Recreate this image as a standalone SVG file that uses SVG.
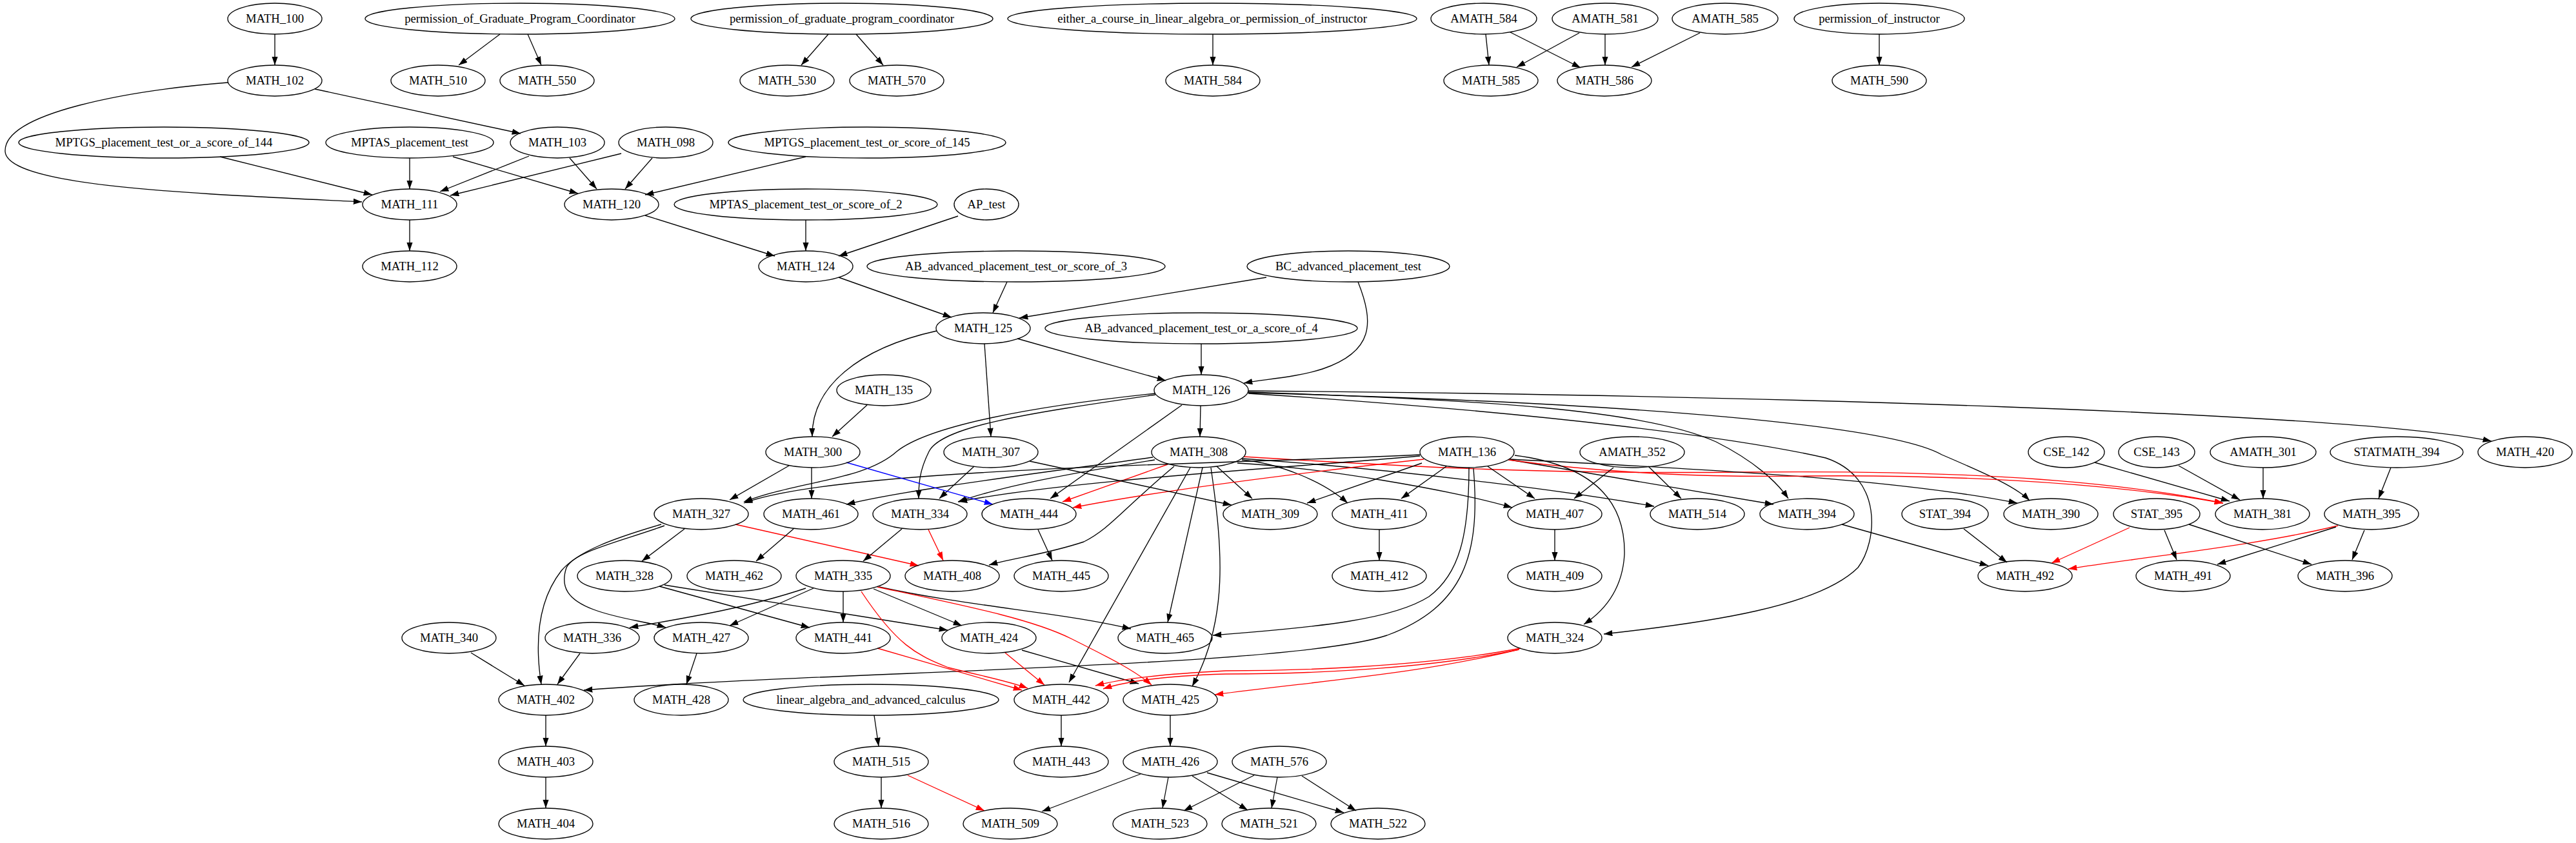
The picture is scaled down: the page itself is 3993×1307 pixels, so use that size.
<svg xmlns="http://www.w3.org/2000/svg" width="3993" height="1307" viewBox="0 0 3993 1307">
<style>
.node ellipse{fill:none;stroke:#000;stroke-width:1.33}
.node text{font-family:"Liberation Serif","Times New Roman",serif;font-size:18.67px;text-anchor:middle;fill:#000}
.e{fill:none;stroke:#000;stroke-width:1.33;marker-end:url(#ak)}
.e.r{stroke:#f00;marker-end:url(#ar)}
.e.b{stroke:#00f;marker-end:url(#ab)}
</style>
<defs>
<marker id="ak" markerUnits="userSpaceOnUse" markerWidth="14" markerHeight="10" refX="13.33" refY="4.67" orient="auto"><path d="M0,0 L13.33,4.67 L0,9.33 z" fill="#000"/></marker>
<marker id="ar" markerUnits="userSpaceOnUse" markerWidth="14" markerHeight="10" refX="13.33" refY="4.67" orient="auto"><path d="M0,0 L13.33,4.67 L0,9.33 z" fill="#f00"/></marker>
<marker id="ab" markerUnits="userSpaceOnUse" markerWidth="14" markerHeight="10" refX="13.33" refY="4.67" orient="auto"><path d="M0,0 L13.33,4.67 L0,9.33 z" fill="#00f"/></marker>
</defs>
<rect width="3993" height="1307" fill="#fff"/>
<g id="edges">
<path class="e" d="M426,53 L426,101"/>
<path class="e" d="M775,53 L711,101"/>
<path class="e" d="M818,53 L839,101"/>
<path class="e" d="M1284,53 L1242,101"/>
<path class="e" d="M1327,53 L1369,101"/>
<path class="e" d="M1880,53 L1880,101"/>
<path class="e" d="M2303,53 L2308,101"/>
<path class="e" d="M2341,50 L2450,105"/>
<path class="e" d="M2448,51 L2351,104"/>
<path class="e" d="M2488,53 L2488,101"/>
<path class="e" d="M2635,51 L2529,104"/>
<path class="e" d="M2913,53 L2913,101"/>
<path class="e" d="M353,128 C200,140 5,175 8,235 C12,290 300,300 561,313"/>
<path class="e" d="M488,138 L807,207"/>
<path class="e" d="M341,243 L577,302"/>
<path class="e" d="M635,245 L635,293"/>
<path class="e" d="M702,243 L896,300"/>
<path class="e" d="M820,242 L682,297"/>
<path class="e" d="M883,245 L925,293"/>
<path class="e" d="M963,238 L698,303"/>
<path class="e" d="M1011,245 L969,293"/>
<path class="e" d="M1249,243 L1000,302"/>
<path class="e" d="M635,341 L635,389"/>
<path class="e" d="M1000,334 L1201,397"/>
<path class="e" d="M1249,341 L1249,389"/>
<path class="e" d="M1485,335 L1300,397"/>
<path class="e" d="M1300,430 L1475,492"/>
<path class="e" d="M1561,437 L1539,485"/>
<path class="e" d="M1963,430 L1580,493"/>
<path class="e" d="M2105,437 C2130,500 2130,545 2050,572 C2010,585 1960,588 1928,594"/>
<path class="e" d="M1862,533 L1862,581"/>
<path class="e" d="M1577,525 L1807,590"/>
<path class="e" d="M1452,513 C1330,540 1258,600 1259,677"/>
<path class="e" d="M1526,533 L1536,677"/>
<path class="e" d="M1344,628 L1290,677"/>
<path class="e" d="M1861,629 L1860,677"/>
<path class="e" d="M1791,610 C1600,630 1440,660 1390,700 C1340,745 1240,745 1153,778"/>
<path class="e" d="M1791,612 C1600,640 1460,660 1440,700 C1425,730 1424,750 1424,773"/>
<path class="e" d="M1832,628 L1628,773"/>
<path class="e" d="M1935,606 C2700,612 3650,640 3862,684"/>
<path class="e" d="M1935,608 C2300,620 2550,635 2660,685 C2720,715 2755,748 2772,773"/>
<path class="e" d="M1935,609 C2550,625 2930,660 3010,705 C3080,735 3125,755 3146,776"/>
<path class="e" d="M1935,610 C2400,640 2700,680 2830,710 C2920,740 2910,840 2880,880 C2820,940 2650,965 2486,983"/>
<path class="e" d="M1787,709 C1600,735 1400,760 1312,782"/>
<path class="e" d="M1790,713 C1650,735 1550,755 1485,778"/>
<path class="e r" d="M1810,720 L1647,778"/>
<path class="e" d="M1886,723 L1941,773"/>
<path class="e" d="M1925,713 C1980,718 2050,745 2089,780"/>
<path class="e" d="M1918,718 C2050,725 2250,760 2344,787"/>
<path class="e" d="M1925,711 C2200,730 2450,765 2564,785"/>
<path class="e r" d="M1928,708 C2200,725 2400,735 2700,732 C3000,729 3250,740 3446,780"/>
<path class="e" d="M1820,723 C1740,790 1720,820 1680,840 C1620,860 1570,865 1533,876"/>
<path class="e" d="M1845,725 L1657,1058"/>
<path class="e" d="M1864,725 L1810,965"/>
<path class="e" d="M1877,725 C1895,850 1905,960 1848,1064"/>
<path class="e" d="M2201,705 C1900,720 1300,725 1153,780"/>
<path class="e" d="M2201,707 C2000,725 1650,745 1486,778"/>
<path class="e r" d="M2207,712 C2000,735 1800,760 1663,787"/>
<path class="e" d="M2204,718 L2026,780"/>
<path class="e" d="M2242,723 L2172,773"/>
<path class="e" d="M2306,723 L2379,773"/>
<path class="e" d="M2341,713 L2749,782"/>
<path class="e" d="M2340,712 C2700,730 2950,745 3127,780"/>
<path class="e r" d="M2338,713 C2500,735 2650,740 2800,738 C3000,736 3250,745 3446,780"/>
<path class="e" d="M2277,725 C2277,830 2262,890 2215,925 C2160,960 2050,972 1880,985"/>
<path class="e" d="M2284,726 C2295,860 2270,940 2150,985 C2000,1035 1300,1040 905,1070"/>
<path class="e" d="M2348,706 C2460,720 2520,770 2518,860 C2515,910 2490,945 2455,968"/>
<path class="e" d="M1510,723 L1456,773"/>
<path class="e" d="M1596,715 L1909,783"/>
<path class="e" d="M1223,722 L1131,775"/>
<path class="e" d="M1258,725 L1258,773"/>
<path class="e b" d="M1312,717 L1539,782"/>
<path class="e" d="M1061,820 L995,870"/>
<path class="e r" d="M1140,813 L1424,877"/>
<path class="e r" d="M1439,821 L1462,869"/>
<path class="e" d="M1398,820 L1338,870"/>
<path class="e" d="M1230,820 L1172,870"/>
<path class="e" d="M1609,821 L1631,869"/>
<path class="e" d="M1025,813 C950,835 895,855 870,885 C835,930 828,990 839,1061"/>
<path class="e" d="M1030,815 C960,840 890,855 878,880 C868,910 880,930 920,945 C960,960 1000,963 1032,973"/>
<path class="e" d="M1022,909 L1255,973"/>
<path class="e" d="M1030,907 L1469,977"/>
<path class="e" d="M1249,912 C1150,945 1050,960 976,973"/>
<path class="e" d="M1261,912 L1131,970"/>
<path class="e" d="M1307,917 L1307,965"/>
<path class="e" d="M1354,913 L1491,970"/>
<path class="e" d="M1363,910 C1500,940 1650,950 1753,975"/>
<path class="e r" d="M1335,917 C1390,1000 1420,1015 1470,1035 C1530,1050 1560,1055 1593,1067"/>
<path class="e r" d="M1360,910 C1500,940 1600,960 1660,990 C1720,1020 1760,1040 1785,1062"/>
<path class="e r" d="M1360,1005 L1584,1070"/>
<path class="e r" d="M1558,1012 L1619,1062"/>
<path class="e" d="M1584,1008 L1765,1060"/>
<path class="e" d="M1080,1013 L1064,1061"/>
<path class="e r" d="M2357,1005 C2200,1035 2000,1040 1900,1040 C1800,1045 1740,1052 1698,1063"/>
<path class="e r" d="M2355,1007 C2200,1040 2000,1045 1900,1045 C1800,1048 1740,1058 1710,1068"/>
<path class="e r" d="M2354,1007 C2200,1045 2050,1055 1883,1077"/>
<path class="e" d="M899,1013 L864,1061"/>
<path class="e" d="M730,1012 L813,1063"/>
<path class="e" d="M846,1109 L846,1157"/>
<path class="e" d="M846,1205 L846,1253"/>
<path class="e" d="M1355,1109 L1362,1157"/>
<path class="e" d="M1366,1205 L1366,1253"/>
<path class="e r" d="M1407,1202 L1526,1257"/>
<path class="e" d="M1645,1109 L1645,1157"/>
<path class="e" d="M1814,1109 L1814,1157"/>
<path class="e" d="M1768,1200 L1615,1258"/>
<path class="e" d="M1811,1205 L1802,1253"/>
<path class="e" d="M1848,1203 L1934,1256"/>
<path class="e" d="M1871,1198 L2083,1260"/>
<path class="e" d="M1944,1202 L1835,1257"/>
<path class="e" d="M1980,1205 L1971,1253"/>
<path class="e" d="M2018,1203 L2102,1257"/>
<path class="e" d="M2855,813 L3082,877"/>
<path class="e" d="M3044,820 L3111,872"/>
<path class="e r" d="M3301,818 L3180,873"/>
<path class="e r" d="M3624,815 C3500,845 3350,860 3206,882"/>
<path class="e" d="M3355,822 L3374,868"/>
<path class="e" d="M3393,813 L3583,875"/>
<path class="e" d="M3621,817 L3437,875"/>
<path class="e" d="M3665,822 L3646,868"/>
<path class="e" d="M3706,725 L3687,773"/>
<path class="e" d="M3247,717 L3456,777"/>
<path class="e" d="M3377,722 L3472,775"/>
<path class="e" d="M3508,725 L3508,773"/>
<path class="e" d="M2501,725 L2440,773"/>
<path class="e" d="M2555,723 L2606,773"/>
<path class="e" d="M2138,821 L2138,869"/>
<path class="e" d="M2410,821 L2410,869"/>
</g>
<g id="n_MATH_100" class="node"><ellipse cx="426" cy="29" rx="73" ry="24"/><text x="426" y="35">MATH_100</text></g>
<g id="n_perm_Grad" class="node"><ellipse cx="806" cy="29" rx="240" ry="24"/><text x="806" y="35">permission_of_Graduate_Program_Coordinator</text></g>
<g id="n_perm_grad" class="node"><ellipse cx="1305" cy="29" rx="234" ry="24"/><text x="1305" y="35">permission_of_graduate_program_coordinator</text></g>
<g id="n_either" class="node"><ellipse cx="1879" cy="29" rx="317" ry="24"/><text x="1879" y="35">either_a_course_in_linear_algebra_or_permission_of_instructor</text></g>
<g id="n_AMATH_584" class="node"><ellipse cx="2300" cy="29" rx="82" ry="24"/><text x="2300" y="35">AMATH_584</text></g>
<g id="n_AMATH_581" class="node"><ellipse cx="2488" cy="29" rx="82" ry="24"/><text x="2488" y="35">AMATH_581</text></g>
<g id="n_AMATH_585" class="node"><ellipse cx="2674" cy="29" rx="82" ry="24"/><text x="2674" y="35">AMATH_585</text></g>
<g id="n_perm_instr" class="node"><ellipse cx="2913" cy="29" rx="132" ry="24"/><text x="2913" y="35">permission_of_instructor</text></g>
<g id="n_MATH_102" class="node"><ellipse cx="426" cy="125" rx="73" ry="24"/><text x="426" y="131">MATH_102</text></g>
<g id="n_MATH_510" class="node"><ellipse cx="679" cy="125" rx="73" ry="24"/><text x="679" y="131">MATH_510</text></g>
<g id="n_MATH_550" class="node"><ellipse cx="848" cy="125" rx="73" ry="24"/><text x="848" y="131">MATH_550</text></g>
<g id="n_MATH_530" class="node"><ellipse cx="1220" cy="125" rx="73" ry="24"/><text x="1220" y="131">MATH_530</text></g>
<g id="n_MATH_570" class="node"><ellipse cx="1390" cy="125" rx="73" ry="24"/><text x="1390" y="131">MATH_570</text></g>
<g id="n_MATH_584" class="node"><ellipse cx="1880" cy="125" rx="73" ry="24"/><text x="1880" y="131">MATH_584</text></g>
<g id="n_MATH_585" class="node"><ellipse cx="2311" cy="125" rx="73" ry="24"/><text x="2311" y="131">MATH_585</text></g>
<g id="n_MATH_586" class="node"><ellipse cx="2487" cy="125" rx="73" ry="24"/><text x="2487" y="131">MATH_586</text></g>
<g id="n_MATH_590" class="node"><ellipse cx="2913" cy="125" rx="73" ry="24"/><text x="2913" y="131">MATH_590</text></g>
<g id="n_MPTGS_144" class="node"><ellipse cx="254" cy="221" rx="225" ry="24"/><text x="254" y="227">MPTGS_placement_test_or_a_score_of_144</text></g>
<g id="n_MPTAS_pt" class="node"><ellipse cx="635" cy="221" rx="130" ry="24"/><text x="635" y="227">MPTAS_placement_test</text></g>
<g id="n_MATH_103" class="node"><ellipse cx="864" cy="221" rx="73" ry="24"/><text x="864" y="227">MATH_103</text></g>
<g id="n_MATH_098" class="node"><ellipse cx="1032" cy="221" rx="73" ry="24"/><text x="1032" y="227">MATH_098</text></g>
<g id="n_MPTGS_145" class="node"><ellipse cx="1344" cy="221" rx="215" ry="24"/><text x="1344" y="227">MPTGS_placement_test_or_score_of_145</text></g>
<g id="n_MATH_111" class="node"><ellipse cx="635" cy="317" rx="73" ry="24"/><text x="635" y="323">MATH_111</text></g>
<g id="n_MATH_120" class="node"><ellipse cx="948" cy="317" rx="73" ry="24"/><text x="948" y="323">MATH_120</text></g>
<g id="n_MPTAS_2" class="node"><ellipse cx="1249" cy="317" rx="204" ry="24"/><text x="1249" y="323">MPTAS_placement_test_or_score_of_2</text></g>
<g id="n_AP_test" class="node"><ellipse cx="1529" cy="317" rx="50" ry="24"/><text x="1529" y="323">AP_test</text></g>
<g id="n_MATH_112" class="node"><ellipse cx="635" cy="413" rx="73" ry="24"/><text x="635" y="419">MATH_112</text></g>
<g id="n_MATH_124" class="node"><ellipse cx="1249" cy="413" rx="73" ry="24"/><text x="1249" y="419">MATH_124</text></g>
<g id="n_AB_3" class="node"><ellipse cx="1575" cy="413" rx="231" ry="24"/><text x="1575" y="419">AB_advanced_placement_test_or_score_of_3</text></g>
<g id="n_BC" class="node"><ellipse cx="2090" cy="413" rx="157" ry="24"/><text x="2090" y="419">BC_advanced_placement_test</text></g>
<g id="n_MATH_125" class="node"><ellipse cx="1524" cy="509" rx="73" ry="24"/><text x="1524" y="515">MATH_125</text></g>
<g id="n_AB_4" class="node"><ellipse cx="1862" cy="509" rx="242" ry="24"/><text x="1862" y="515">AB_advanced_placement_test_or_a_score_of_4</text></g>
<g id="n_MATH_135" class="node"><ellipse cx="1370" cy="605" rx="73" ry="24"/><text x="1370" y="611">MATH_135</text></g>
<g id="n_MATH_126" class="node"><ellipse cx="1862" cy="605" rx="73" ry="24"/><text x="1862" y="611">MATH_126</text></g>
<g id="n_MATH_300" class="node"><ellipse cx="1260" cy="701" rx="73" ry="24"/><text x="1260" y="707">MATH_300</text></g>
<g id="n_MATH_307" class="node"><ellipse cx="1536" cy="701" rx="73" ry="24"/><text x="1536" y="707">MATH_307</text></g>
<g id="n_MATH_308" class="node"><ellipse cx="1858" cy="701" rx="73" ry="24"/><text x="1858" y="707">MATH_308</text></g>
<g id="n_MATH_136" class="node"><ellipse cx="2274" cy="701" rx="73" ry="24"/><text x="2274" y="707">MATH_136</text></g>
<g id="n_AMATH_352" class="node"><ellipse cx="2530" cy="701" rx="81" ry="24"/><text x="2530" y="707">AMATH_352</text></g>
<g id="n_CSE_142" class="node"><ellipse cx="3203" cy="701" rx="59" ry="24"/><text x="3203" y="707">CSE_142</text></g>
<g id="n_CSE_143" class="node"><ellipse cx="3343" cy="701" rx="59" ry="24"/><text x="3343" y="707">CSE_143</text></g>
<g id="n_AMATH_301" class="node"><ellipse cx="3508" cy="701" rx="82" ry="24"/><text x="3508" y="707">AMATH_301</text></g>
<g id="n_STATMATH_394" class="node"><ellipse cx="3715" cy="701" rx="103" ry="24"/><text x="3715" y="707">STATMATH_394</text></g>
<g id="n_MATH_420" class="node"><ellipse cx="3914" cy="701" rx="73" ry="24"/><text x="3914" y="707">MATH_420</text></g>
<g id="n_MATH_327" class="node"><ellipse cx="1087" cy="797" rx="73" ry="24"/><text x="1087" y="803">MATH_327</text></g>
<g id="n_MATH_461" class="node"><ellipse cx="1257" cy="797" rx="73" ry="24"/><text x="1257" y="803">MATH_461</text></g>
<g id="n_MATH_334" class="node"><ellipse cx="1426" cy="797" rx="73" ry="24"/><text x="1426" y="803">MATH_334</text></g>
<g id="n_MATH_444" class="node"><ellipse cx="1595" cy="797" rx="73" ry="24"/><text x="1595" y="803">MATH_444</text></g>
<g id="n_MATH_309" class="node"><ellipse cx="1969" cy="797" rx="73" ry="24"/><text x="1969" y="803">MATH_309</text></g>
<g id="n_MATH_411" class="node"><ellipse cx="2138" cy="797" rx="73" ry="24"/><text x="2138" y="803">MATH_411</text></g>
<g id="n_MATH_407" class="node"><ellipse cx="2410" cy="797" rx="73" ry="24"/><text x="2410" y="803">MATH_407</text></g>
<g id="n_MATH_514" class="node"><ellipse cx="2631" cy="797" rx="73" ry="24"/><text x="2631" y="803">MATH_514</text></g>
<g id="n_MATH_394" class="node"><ellipse cx="2801" cy="797" rx="73" ry="24"/><text x="2801" y="803">MATH_394</text></g>
<g id="n_STAT_394" class="node"><ellipse cx="3015" cy="797" rx="67" ry="24"/><text x="3015" y="803">STAT_394</text></g>
<g id="n_MATH_390" class="node"><ellipse cx="3179" cy="797" rx="73" ry="24"/><text x="3179" y="803">MATH_390</text></g>
<g id="n_STAT_395" class="node"><ellipse cx="3343" cy="797" rx="67" ry="24"/><text x="3343" y="803">STAT_395</text></g>
<g id="n_MATH_381" class="node"><ellipse cx="3507" cy="797" rx="73" ry="24"/><text x="3507" y="803">MATH_381</text></g>
<g id="n_MATH_395" class="node"><ellipse cx="3676" cy="797" rx="73" ry="24"/><text x="3676" y="803">MATH_395</text></g>
<g id="n_MATH_328" class="node"><ellipse cx="968" cy="893" rx="73" ry="24"/><text x="968" y="899">MATH_328</text></g>
<g id="n_MATH_462" class="node"><ellipse cx="1138" cy="893" rx="73" ry="24"/><text x="1138" y="899">MATH_462</text></g>
<g id="n_MATH_335" class="node"><ellipse cx="1307" cy="893" rx="73" ry="24"/><text x="1307" y="899">MATH_335</text></g>
<g id="n_MATH_408" class="node"><ellipse cx="1476" cy="893" rx="73" ry="24"/><text x="1476" y="899">MATH_408</text></g>
<g id="n_MATH_445" class="node"><ellipse cx="1645" cy="893" rx="73" ry="24"/><text x="1645" y="899">MATH_445</text></g>
<g id="n_MATH_412" class="node"><ellipse cx="2138" cy="893" rx="73" ry="24"/><text x="2138" y="899">MATH_412</text></g>
<g id="n_MATH_409" class="node"><ellipse cx="2410" cy="893" rx="73" ry="24"/><text x="2410" y="899">MATH_409</text></g>
<g id="n_MATH_492" class="node"><ellipse cx="3139" cy="893" rx="73" ry="24"/><text x="3139" y="899">MATH_492</text></g>
<g id="n_MATH_491" class="node"><ellipse cx="3384" cy="893" rx="73" ry="24"/><text x="3384" y="899">MATH_491</text></g>
<g id="n_MATH_396" class="node"><ellipse cx="3635" cy="893" rx="73" ry="24"/><text x="3635" y="899">MATH_396</text></g>
<g id="n_MATH_340" class="node"><ellipse cx="696" cy="989" rx="73" ry="24"/><text x="696" y="995">MATH_340</text></g>
<g id="n_MATH_336" class="node"><ellipse cx="918" cy="989" rx="73" ry="24"/><text x="918" y="995">MATH_336</text></g>
<g id="n_MATH_427" class="node"><ellipse cx="1087" cy="989" rx="73" ry="24"/><text x="1087" y="995">MATH_427</text></g>
<g id="n_MATH_441" class="node"><ellipse cx="1307" cy="989" rx="73" ry="24"/><text x="1307" y="995">MATH_441</text></g>
<g id="n_MATH_424" class="node"><ellipse cx="1533" cy="989" rx="73" ry="24"/><text x="1533" y="995">MATH_424</text></g>
<g id="n_MATH_465" class="node"><ellipse cx="1806" cy="989" rx="73" ry="24"/><text x="1806" y="995">MATH_465</text></g>
<g id="n_MATH_324" class="node"><ellipse cx="2410" cy="989" rx="73" ry="24"/><text x="2410" y="995">MATH_324</text></g>
<g id="n_MATH_402" class="node"><ellipse cx="846" cy="1085" rx="73" ry="24"/><text x="846" y="1091">MATH_402</text></g>
<g id="n_MATH_428" class="node"><ellipse cx="1056" cy="1085" rx="73" ry="24"/><text x="1056" y="1091">MATH_428</text></g>
<g id="n_linalg" class="node"><ellipse cx="1350" cy="1085" rx="198" ry="24"/><text x="1350" y="1091">linear_algebra_and_advanced_calculus</text></g>
<g id="n_MATH_442" class="node"><ellipse cx="1645" cy="1085" rx="73" ry="24"/><text x="1645" y="1091">MATH_442</text></g>
<g id="n_MATH_425" class="node"><ellipse cx="1814" cy="1085" rx="73" ry="24"/><text x="1814" y="1091">MATH_425</text></g>
<g id="n_MATH_403" class="node"><ellipse cx="846" cy="1181" rx="73" ry="24"/><text x="846" y="1187">MATH_403</text></g>
<g id="n_MATH_515" class="node"><ellipse cx="1366" cy="1181" rx="73" ry="24"/><text x="1366" y="1187">MATH_515</text></g>
<g id="n_MATH_443" class="node"><ellipse cx="1645" cy="1181" rx="73" ry="24"/><text x="1645" y="1187">MATH_443</text></g>
<g id="n_MATH_426" class="node"><ellipse cx="1814" cy="1181" rx="73" ry="24"/><text x="1814" y="1187">MATH_426</text></g>
<g id="n_MATH_576" class="node"><ellipse cx="1983" cy="1181" rx="73" ry="24"/><text x="1983" y="1187">MATH_576</text></g>
<g id="n_MATH_404" class="node"><ellipse cx="846" cy="1277" rx="73" ry="24"/><text x="846" y="1283">MATH_404</text></g>
<g id="n_MATH_516" class="node"><ellipse cx="1366" cy="1277" rx="73" ry="24"/><text x="1366" y="1283">MATH_516</text></g>
<g id="n_MATH_509" class="node"><ellipse cx="1566" cy="1277" rx="73" ry="24"/><text x="1566" y="1283">MATH_509</text></g>
<g id="n_MATH_523" class="node"><ellipse cx="1798" cy="1277" rx="73" ry="24"/><text x="1798" y="1283">MATH_523</text></g>
<g id="n_MATH_521" class="node"><ellipse cx="1967" cy="1277" rx="73" ry="24"/><text x="1967" y="1283">MATH_521</text></g>
<g id="n_MATH_522" class="node"><ellipse cx="2136" cy="1277" rx="73" ry="24"/><text x="2136" y="1283">MATH_522</text></g>
</svg>
